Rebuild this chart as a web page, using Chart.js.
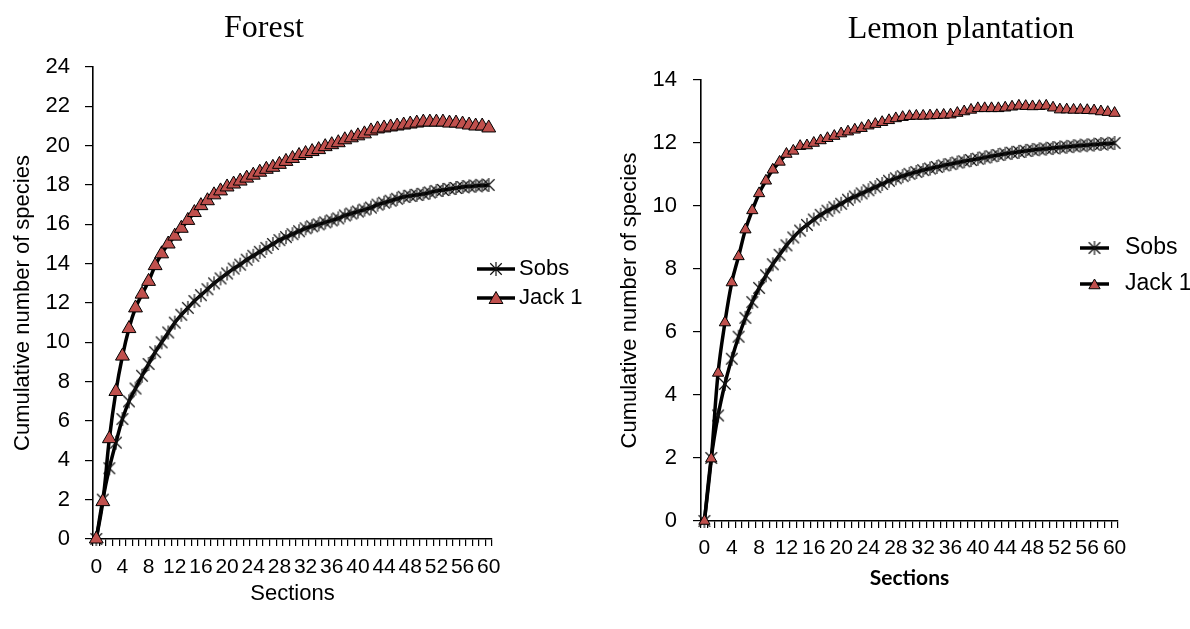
<!DOCTYPE html>
<html>
<head>
<meta charset="utf-8">
<script src="https://cdn.jsdelivr.net/npm/chart.js"></script>
<style>
html,body{margin:0;padding:0;background:#fff;}
body{width:1190px;height:629px;position:relative;overflow:hidden;}
.box{position:absolute;top:0;height:629px;width:595px;}
#b1{left:0;}
#b2{left:595px;}
.ttl{position:absolute;font-family:"Liberation Serif","Times New Roman",serif;font-size:32px;line-height:1;color:#000;transform:translate(-50%,-50%);white-space:nowrap;}
</style>
</head>
<body>
<div class="box" id="b1"><canvas id="c1"></canvas></div>
<div class="box" id="b2"><canvas id="c2"></canvas></div>
<div class="ttl" style="left:264px;top:26px;">Forest</div>
<div class="ttl" style="left:961px;top:27px;">Lemon plantation</div>
<script>
// ---------- data ----------
const sections = [0,1,2,3,4,5,6,7,8,9,10,11,12,13,14,15,16,17,18,19,20,21,22,23,24,25,26,27,28,29,30,
  31,32,33,34,35,36,37,38,39,40,41,42,43,44,45,46,47,48,49,50,51,52,53,54,55,56,57,58,59,60];

const forestSobs = [0,2.0,3.6,4.9,6.1,7.0,7.65,8.3,8.9,9.5,10.0,10.5,11.0,11.4,11.75,12.1,12.4,12.7,13.0,13.25,13.5,
  13.75,13.95,14.2,14.4,14.6,14.8,15.0,15.2,15.35,15.5,15.65,15.8,15.9,16.0,16.1,16.2,16.3,16.45,16.55,16.65,
  16.75,16.85,17.0,17.1,17.2,17.3,17.4,17.45,17.5,17.55,17.62,17.7,17.75,17.8,17.85,17.9,17.93,17.96,17.98,18.0];

const forestJack1 = [0,1.9,5.1,7.5,9.3,10.7,11.75,12.45,13.1,13.9,14.5,15.0,15.4,15.8,16.2,16.6,16.95,17.2,17.5,17.7,17.9,
  18.05,18.2,18.35,18.5,18.65,18.8,18.9,19.05,19.2,19.35,19.5,19.6,19.7,19.8,19.95,20.05,20.15,20.3,20.4,20.5,
  20.6,20.75,20.85,20.9,20.95,21.0,21.05,21.1,21.15,21.2,21.2,21.2,21.2,21.15,21.15,21.1,21.05,21.0,21.0,20.9];

const lemonSobs = [0,2.0,3.35,4.35,5.15,5.85,6.45,6.95,7.4,7.8,8.15,8.45,8.75,9.0,9.22,9.4,9.57,9.72,9.85,9.96,10.07,
  10.2,10.3,10.4,10.5,10.6,10.7,10.8,10.88,10.95,11.02,11.08,11.14,11.19,11.24,11.29,11.33,11.38,11.42,11.46,11.5,
  11.54,11.58,11.62,11.66,11.69,11.72,11.75,11.78,11.8,11.82,11.84,11.86,11.88,11.9,11.92,11.93,11.95,11.97,11.98,12.0];

const lemonJack1 = [0,1.98,4.7,6.3,7.57,8.4,9.25,9.86,10.4,10.8,11.15,11.4,11.65,11.75,11.9,11.92,12.0,12.08,12.15,12.22,12.3,
  12.36,12.42,12.47,12.55,12.6,12.66,12.72,12.78,12.82,12.85,12.86,12.86,12.87,12.88,12.89,12.9,12.95,13.0,13.05,13.1,
  13.1,13.1,13.1,13.12,13.15,13.18,13.17,13.16,13.17,13.18,13.12,13.06,13.06,13.05,13.05,13.04,13.03,13.0,12.98,12.95];

const seriesNames = ['Sobs','Jack 1'];
const forestYTicks = {min:0, max:24, step:2};
const lemonYTicks = {min:0, max:14, step:2};
const xLabelEvery = 4;
const yTitle = 'Cumulative number of species';
const xTitle = 'Sections';

// ---------- styles ----------
const SANS = '"Liberation Sans", Arial, sans-serif';
const RED = '#C0504D';

function starImage(r){
  const s = Math.ceil(2*r+2);
  const c = document.createElement('canvas');
  c.width = s; c.height = s;
  const g = c.getContext('2d');
  const m = s/2, d = r*0.82;
  g.strokeStyle = '#111'; g.lineWidth = 1.2;
  g.beginPath();
  g.moveTo(m-d,m-d); g.lineTo(m+d,m+d);
  g.moveTo(m+d,m-d); g.lineTo(m-d,m+d);
  g.moveTo(m,m-r); g.lineTo(m,m+r);
  g.stroke();
  return c;
}

function drawTri(ctx,x,y,r){
  ctx.beginPath();
  for(let k=0;k<3;k++){
    const a = -Math.PI/2 + k*2*Math.PI/3;
    const px = x + Math.cos(a)*r, py = y + Math.sin(a)*r;
    if(k===0) ctx.moveTo(px,py); else ctx.lineTo(px,py);
  }
  ctx.closePath();
  ctx.fillStyle = RED; ctx.fill();
  ctx.strokeStyle = '#000'; ctx.lineWidth = 1; ctx.stroke();
}

const xlLegend = {
  id:'xlLegend',
  afterDatasetsDraw(chart, args, o){
    if(!o || !o.items) return;
    const ctx = chart.ctx;
    ctx.save();
    o.items.forEach((it,i)=>{
      const y = o.ys[i];
      ctx.strokeStyle = '#000'; ctx.lineWidth = 3.5;
      ctx.beginPath(); ctx.moveTo(o.x0,y); ctx.lineTo(o.x1,y); ctx.stroke();
      const cx = (o.x0+o.x1)/2;
      if(it.type==='star'){
        const img = it.img;
        ctx.drawImage(img, cx-img.width/2, y-img.height/2);
      } else {
        drawTri(ctx, cx, y+1.5, it.r);
      }
      ctx.fillStyle = '#000';
      ctx.font = o.font;
      ctx.textBaseline = 'middle';
      ctx.textAlign = 'left';
      ctx.fillText(it.text, o.tx, y);
    });
    ctx.restore();
  }
};

function makeChart(id, sobs, jack, yt, L){
  const star = starImage(L.starR);
  return new Chart(document.getElementById(id), {
    type:'line',
    data:{
      labels: sections,
      datasets:[
        {label:seriesNames[0], data:sobs, borderColor:'#000', borderWidth:3.5, tension:0.4,
         pointStyle:star, pointRadius:L.starR, pointHoverRadius:L.starR, order:1, clip:false, fill:false},
        {label:seriesNames[1], data:jack, borderColor:'#000', borderWidth:3.5, tension:0.4,
         pointStyle:'triangle', pointRadius:L.triR, pointHoverRadius:L.triR, pointBackgroundColor:RED,
         pointBorderColor:'#000', pointBorderWidth:1, order:0, clip:false, fill:false}
      ]
    },
    options:{
      responsive:true, maintainAspectRatio:false, animation:false,
      events:[],
      layout:{padding:{top:L.top, right:L.padRight, left:0, bottom:0}},
      plugins:{
        legend:{display:false}, tooltip:{enabled:false}, title:{display:false},
        xlLegend:{
          x0:L.lx0, x1:L.lx1, tx:L.tx, ys:L.ly, font:L.legendFont,
          items:[{type:'star', img:star, text:seriesNames[0]},{type:'tri', r:L.triR, text:seriesNames[1]}]
        }
      },
      scales:{
        x:{
          type:'category', offset:true,
          afterFit:s=>{ s.height = L.xH; },
          grid:{offset:true, drawOnChartArea:false, drawTicks:true, tickLength:7, color:'#000', lineWidth:1.2},
          border:{color:'#000', width:1.6},
          ticks:{autoSkip:false, maxRotation:0, minRotation:0, padding:L.xTickPad, color:'#000',
                 font:{family:SANS, size:21},
                 callback:function(v,i){ return (i % xLabelEvery === 0) ? String(sections[i]) : ''; }},
          title:{display:true, text:xTitle, color:'#000', font:L.xTitleFont, padding:{top:0,bottom:L.xTitlePad}}
        },
        y:{
          min:yt.min, max:yt.max,
          afterFit:s=>{ s.width = L.yW; },
          grid:{drawOnChartArea:false, drawTicks:true, tickLength:8, color:'#000', lineWidth:1.2},
          border:{color:'#000', width:1.6},
          ticks:{stepSize:yt.step, padding:L.yTickPad, color:'#000', font:{family:SANS, size:22}},
          title:{display:true, text:yTitle, color:'#000', font:{family:SANS, size:22}, padding:{top:L.yTitlePad, bottom:0}}
        }
      }
    },
    plugins:[xlLegend]
  });
}

makeChart('c1', forestSobs, forestJack1, forestYTicks, {
  top:67, padRight:103, xH:90, yW:93, xTickPad:9, xTitlePad:22, yTickPad:15, yTitlePad:10,
  xTitleFont:{family:SANS, size:22}, legendFont:'22px '+SANS,
  starR:7, triR:8,
  lx0:477, lx1:515, tx:519, ly:[269,298]
});

makeChart('c2', lemonSobs, lemonJack1, lemonYTicks, {
  top:80, padRight:72, xH:108, yW:106, xTickPad:8, xTitlePad:38, yTickPad:16, yTitlePad:22,
  xTitleFont:{family:'Lato, "Open Sans", sans-serif', size:21, weight:'bold'}, legendFont:'23px '+SANS,
  starR:7, triR:6.5,
  lx0:485, lx1:514, tx:530, ly:[248,284]
});
</script>
</body>
</html>
